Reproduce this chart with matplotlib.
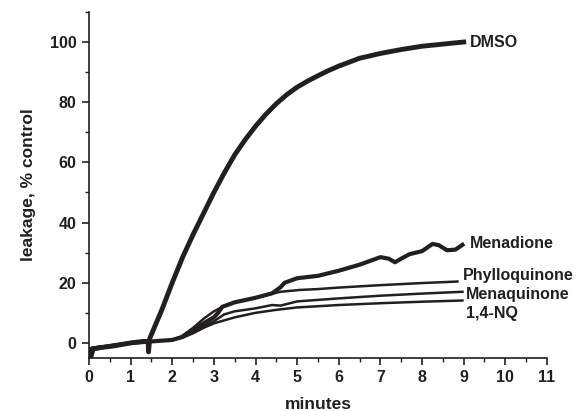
import matplotlib.pyplot as plt
from matplotlib.ticker import MultipleLocator

plt.rcParams['font.family'] = ['Liberation Sans', 'DejaVu Sans']
plt.rcParams['font.weight'] = 'bold'

INK = '#231f20'

# leakage traces (% of control), time in minutes
dmso_t = [0, 0.05, 0.1, 0.3, 0.6, 1.0, 1.3, 1.42, 1.43, 1.46, 1.75, 2.0, 2.25, 2.5,
          2.75, 3.0, 3.25, 3.5, 3.75, 4.0, 4.25, 4.5, 4.75, 5.0, 5.25, 5.5, 5.75,
          6.0, 6.5, 7.0, 7.5, 8.0, 8.5, 9.0]
dmso_v = [-3, -4, -2, -1.5, -1, 0, 0.5, 0.5, -3, 1.5, 11, 20, 28.5, 36,
          43, 50, 56.5, 62.5, 67.5, 72, 76, 79.5, 82.5, 85, 87, 88.8, 90.5,
          92, 94.6, 96.2, 97.5, 98.6, 99.3, 100]

mena_t = [0, 0.05, 0.1, 0.5, 1.0, 1.5, 2.0, 2.25, 2.5, 2.75, 3.0, 3.1, 3.2, 3.5, 4.0, 4.4,
          4.6, 4.7, 5.0, 5.5, 6.0, 6.5, 7.0, 7.2, 7.35, 7.5, 7.7, 8.0, 8.25, 8.4, 8.6, 8.8, 8.97]
mena_v = [-3, -5, -2, -1, 0, 0.5, 1, 2, 4, 6.5, 8.5, 10, 12, 13.5, 15, 16.5,
          18.5, 20, 21.5, 22.3, 24, 26, 28.5, 28, 26.8, 28, 29.5, 30.5, 32.9, 32.5, 30.8, 31, 32.6]

phyl_t = [0, 0.1, 0.5, 1, 1.5, 2, 2.2, 2.5, 2.75, 3.0, 3.25, 3.5, 4, 4.6, 5.06, 5.5, 6, 7, 8, 8.85]
phyl_v = [-2, -1.5, -1, 0, 0.5, 1, 2, 5, 8, 10.5, 12.3, 13.5, 15, 17.0, 17.6, 17.9, 18.4, 19.2, 19.9, 20.4]

menq_t = [0, 0.1, 0.5, 1, 1.5, 2, 2.25, 2.5, 2.75, 3, 3.25, 3.5, 4, 4.4, 4.6, 5, 5.5, 6, 7, 8, 8.97]
menq_v = [-2, -1.5, -1, 0, 0.5, 1, 2, 3.5, 5.5, 7.2, 9.5, 10.5, 11.5, 12.6, 12.4, 13.8, 14.3, 14.8, 15.7, 16.4, 17.0]

nq_t = [0, 0.1, 0.5, 1, 1.5, 2, 2.25, 2.5, 2.75, 3, 3.5, 4, 4.5, 5, 5.5, 6, 7, 8, 8.97]
nq_v = [-2, -1.5, -1, 0, 0.5, 1, 1.8, 3.2, 5, 6.5, 8.5, 10, 11, 11.8, 12.2, 12.6, 13.2, 13.7, 14.1]

fig = plt.figure(figsize=(5.8, 4.11), dpi=100)
ax = fig.add_axes([0.1534, 0.129, 0.7896, 0.842])

ax.plot(nq_t, nq_v, color=INK, lw=1.8)
ax.plot(menq_t, menq_v, color=INK, lw=1.8)
ax.plot(phyl_t, phyl_v, color=INK, lw=1.8)
ax.plot(mena_t, mena_v, color=INK, lw=3.0)
ax.plot(dmso_t, dmso_v, color=INK, lw=3.5)

# trace labels
lab = dict(fontsize=11.5, fontweight='bold', color=INK, va='center', ha='left')
ax.text(9.15, 99.8, 'DMSO', **lab)
ax.text(9.15, 33.2, 'Menadione', **lab)
ax.text(8.98, 22.3, 'Phylloquinone', **lab)
ax.text(9.06, 16.0, 'Menaquinone', **lab)
ax.text(9.06, 9.8, '1,4-NQ', **lab)

ax.set_xlim(0, 11)
ax.set_ylim(-5, 110)
ax.xaxis.set_major_locator(MultipleLocator(1))
ax.xaxis.set_minor_locator(MultipleLocator(0.5))
ax.yaxis.set_major_locator(MultipleLocator(20))
ax.yaxis.set_minor_locator(MultipleLocator(10))
ax.set_yticks([0, 20, 40, 60, 80, 100])

for s in ['top', 'right']:
    ax.spines[s].set_visible(False)
for s in ['left', 'bottom']:
    ax.spines[s].set_linewidth(1.2)
    ax.spines[s].set_color(INK)

ax.tick_params(which='major', length=5, width=1.2, colors=INK, labelsize=11.5, pad=4)
ax.tick_params(which='minor', length=3, width=1.0, colors=INK)
for t in ax.get_xticklabels() + ax.get_yticklabels():
    t.set_fontweight('bold')

ax.set_xlabel('minutes', fontsize=12.5, fontweight='bold', color=INK, labelpad=8)
ax.set_ylabel('leakage, % control', fontsize=12.5, fontweight='bold', color=INK, labelpad=10)

fig.savefig('out.png', dpi=100)
